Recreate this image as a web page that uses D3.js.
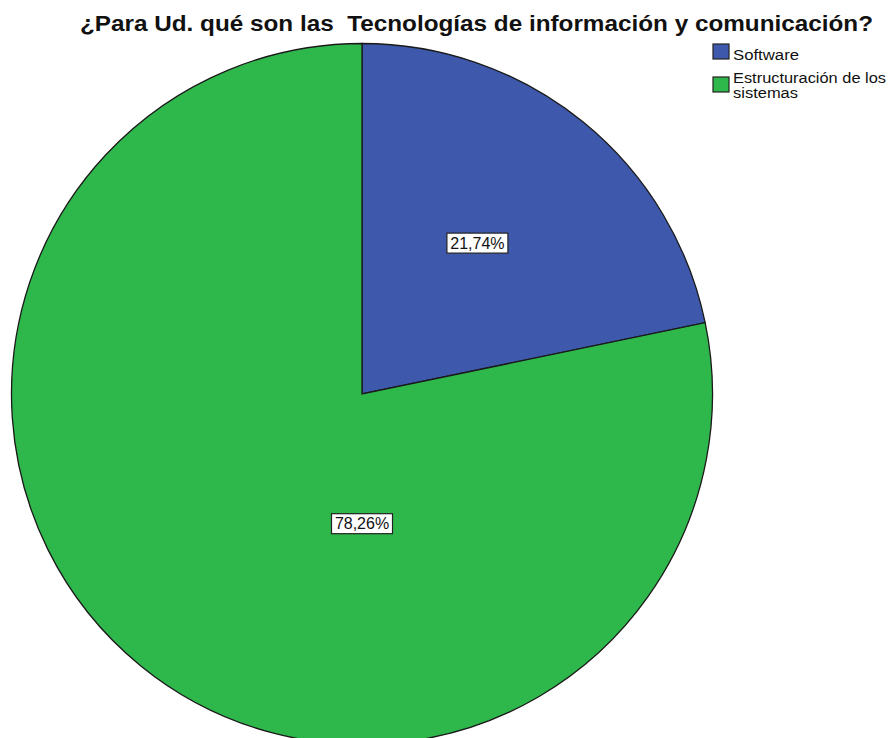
<!DOCTYPE html>
<html>
<head>
<meta charset="utf-8">
<script src="https://cdn.jsdelivr.net/npm/d3@7"></script>
<style>
  body { margin: 0; background: #fff; }
  svg { display: block; font-family: "Liberation Sans", Arial, sans-serif; }
</style>
</head>
<body>
<div id="chart"></div>
<script>
// data (counts, n = 23)
var categories = ["Software", "Estructuración de los sistemas"];
var counts = [5, 18];
var colors = ["#3e58ac", "#2eb84b"];
var title = "¿Para Ud. qué son las  Tecnologías de información y comunicación?";

//canvas
var w = 892;
var h = 738;
var cx = 362, cy = 394;
var radius = 350.5;

var svg = d3.select("#chart")
            .append("svg")
            .attr("width", w)
            .attr("height", h);

//title (SPSS output is stretched a bit wider than normal Arial)
svg.append("text")
    .attr("x", 80)
    .attr("y", 31)
    .attr("font-size", "21.5px")
    .attr("font-weight", "bold")
    .attr("fill", "#111")
    .attr("xml:space", "preserve")
    .attr("textLength", 793)
    .attr("lengthAdjust", "spacingAndGlyphs")
    .text(title);

//pie
var total = d3.sum(counts);
var dataset = categories.map(function(c, i) { return {cat: c, value: counts[i], color: colors[i]}; });

var pie = d3.pie()
            .sort(null)
            .value(function(d) { return d.value; });

var arc = d3.arc()
            .innerRadius(0)
            .outerRadius(radius);

var g = svg.append("g")
            .attr("transform", "translate(" + cx + "," + cy + ")");

var slices = pie(dataset);

g.selectAll("path")
    .data(slices)
    .enter()
    .append("path")
    .attr("d", arc)
    .attr("fill", function(d) { return d.data.color; })
    .attr("stroke", "#1a1a1a")
    .attr("stroke-width", 1.3);

// label placement (SPSS puts the big slice label straight below centre)
var labelRadius = [0.542, 0.37];
var labelAngle = function(d, i) { return i == 0 ? (d.startAngle + d.endAngle) / 2 - 0.03 : Math.PI; };

var fmt = function(v) { return d3.format(".2f")(v / total * 100).replace(".", ",") + "%"; };

var labels = g.selectAll(".lbl")
    .data(slices)
    .enter()
    .append("g")
    .attr("class", "lbl")
    .attr("transform", function(d, i) {
        var a = labelAngle(d, i);
        var r = radius * labelRadius[i];
        return "translate(" + (Math.sin(a) * r) + "," + (-Math.cos(a) * r) + ")";
    });

labels.append("rect")
    .attr("x", -30.5)
    .attr("y", -10)
    .attr("width", 61)
    .attr("height", 20)
    .attr("fill", "#fff")
    .attr("stroke", "#222")
    .attr("stroke-width", 1.2);

labels.append("text")
    .attr("text-anchor", "middle")
    .attr("dy", "0.36em")
    .attr("font-size", "16px")
    .attr("fill", "#111")
    .text(function(d) { return fmt(d.data.value); });

//legend (text squeezed vertically like the SPSS export)
var legendLines = [["Software"], ["Estructuración de los", "sistemas"]];
var legendWidths = {"Software": 66, "Estructuración de los": 153, "sistemas": 65};

var legend = svg.append("g")
                .selectAll("g")
                .data(dataset)
                .enter()
                .append("g")
                .attr("transform", function(d, i) { return "translate(713," + (44 + i * 33) + ")"; });

legend.append("rect")
    .attr("width", 16)
    .attr("height", 15)
    .attr("fill", function(d) { return d.color; })
    .attr("stroke", "#222")
    .attr("stroke-width", 1.2);

legend.append("text")
    .attr("font-size", "14px")
    .attr("fill", "#111")
    .each(function(d, i) {
        var t = d3.select(this);
        legendLines[i].forEach(function(l, j) {
            t.append("tspan")
                .attr("x", 20)
                .attr("y", (i == 0 ? 16 : 5.5) + j * 15.5)
                .attr("textLength", legendWidths[l])
                .attr("lengthAdjust", "spacingAndGlyphs")
                .text(l);
        });
    });
</script>
</body>
</html>
